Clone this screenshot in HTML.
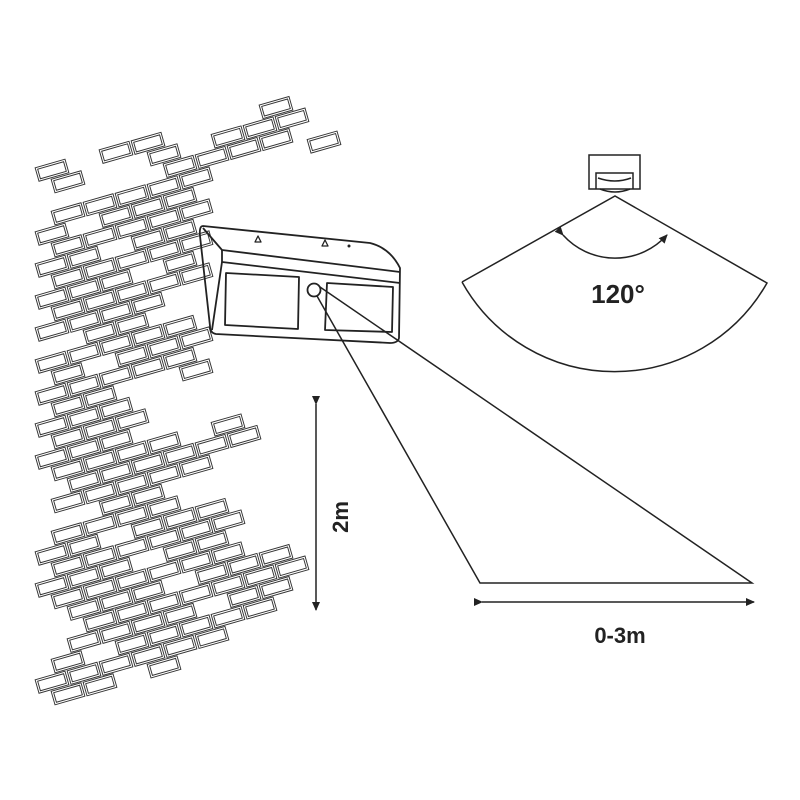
<!DOCTYPE html>
<html><head><meta charset="utf-8"><style>
html,body{margin:0;padding:0;background:#fff;}
svg{display:block;}
text{font-family:"Liberation Sans",sans-serif;font-weight:bold;fill:#222;}
</style></head><body>
<svg id="s" width="800" height="800" viewBox="0 0 800 800" xmlns="http://www.w3.org/2000/svg">
<defs>
<marker id="ah" markerWidth="10" markerHeight="10" refX="8" refY="5" orient="auto" markerUnits="userSpaceOnUse">
<path d="M0,1 L9,5 L0,9 Z" fill="#222"/></marker>
</defs>
<g id="bricks"></g>
<g fill="none" stroke="#222" stroke-width="1.8" stroke-linejoin="round">
<path d="M203,226 L370,243 Q390,248 400,268 L399,338 Q398,343 390,343 L216,334 Q210,333 210,326 L200,236 Q199,226 203,226 Z"/>
<path d="M203,228 L222,250 L400,272"/>
<path d="M222,250 L222,262 L400,283"/>
<path d="M222,262 L212,330"/>
<path d="M226,273 L299,277 L298,329 L225,325 Z"/>
<path d="M327,283 L393,287 L392,332 L325,330 Z"/>
<circle cx="314" cy="290" r="6.5"/>
<path d="M255,242 L258,236 L261,242 Z" stroke-width="1.3"/>
<path d="M322,246 L325,240 L328,246 Z" stroke-width="1.3"/>
</g>
<circle cx="349" cy="246" r="1.5" fill="#222"/>
<g fill="none" stroke="#222" stroke-width="1.5">
<path d="M317,296 L480,583 L752,583 L320,287"/>
<line x1="316" y1="404" x2="316" y2="610" marker-start="url(#ah)" marker-end="url(#ah)"/>
<line x1="482" y1="602" x2="754" y2="602" marker-start="url(#ah)" marker-end="url(#ah)"/>
</g>
<text x="620" y="643" font-size="22" text-anchor="middle">0-3m</text>
<text x="0" y="0" font-size="22" text-anchor="middle" transform="translate(348,517) rotate(-90)">2m</text>
<g fill="none" stroke="#222" stroke-width="1.5">
<rect x="589" y="155" width="51" height="34"/>
<path d="M596,189 L596,173 L633,173 L633,189"/>
<path d="M598,178 Q615,184 631,178 M600,189 Q615,195 630,189"/>
<path d="M462,282 L615,196 L767,283 A175,175 0 0 1 462,282"/>
<path d="M563,235 A70,70 0 0 0 667,235" marker-start="url(#ah)" marker-end="url(#ah)"/>
</g>
<text x="618" y="303" font-size="26" text-anchor="middle">120°</text>
</svg>
<script>
var rows=[
[168,[[62,62],[132,132],[290,290]]],
[184,[[80,80],[160,280]]],
[200,[[175,290],[325,355]]],
[216,[[75,200],[340,345]]],
[232,[[62,190]]],
[248,[[78,180]]],
[264,[[62,180]]],
[280,[[80,190]]],
[296,[[58,190]]],
[312,[[78,180]]],
[328,[[62,160]]],
[344,[[72,130]]],
[360,[[58,190]]],
[376,[[72,190]]],
[392,[[62,170]]],
[408,[[78,120],[210,210]]],
[424,[[58,110]]],
[440,[[62,120]]],
[456,[[58,130]]],
[472,[[62,220]]],
[488,[[58,230]]],
[504,[[72,200]]],
[520,[[80,150]]],
[536,[[72,160]]],
[552,[[62,210]]],
[568,[[58,220]]],
[584,[[62,200]]],
[600,[[58,240]]],
[616,[[72,280]]],
[632,[[78,300]]],
[648,[[72,290]]],
[664,[[62,250]]],
[680,[[52,200]]],
[696,[[62,150]]]];
var g=document.getElementById('bricks'),h='';
rows.forEach(function(r,i){
 var off=(i%2)*16;
 r[1].forEach(function(seg){
  for(var k=0,x=20+off;x<=330;x+=32,k++){
   if(x<seg[0]-16||x>seg[1]+16)continue;
   if(seg[0]!=seg[1] && (i*7+k*13)%9==0)continue;
   var y=r[0]-0.28*(x-60);
   var t='translate('+x+','+y+') rotate(-16)';
   h+='<rect x="-14.5" y="-6" width="29" height="12" transform="'+t+'" fill="none" stroke="#333" stroke-width="3"/>';
   h+='<rect x="-14.5" y="-6" width="29" height="12" transform="'+t+'" fill="none" stroke="#fff" stroke-width="1.1"/>';
  }
 });
});
g.innerHTML=h;
</script>
</body></html>
